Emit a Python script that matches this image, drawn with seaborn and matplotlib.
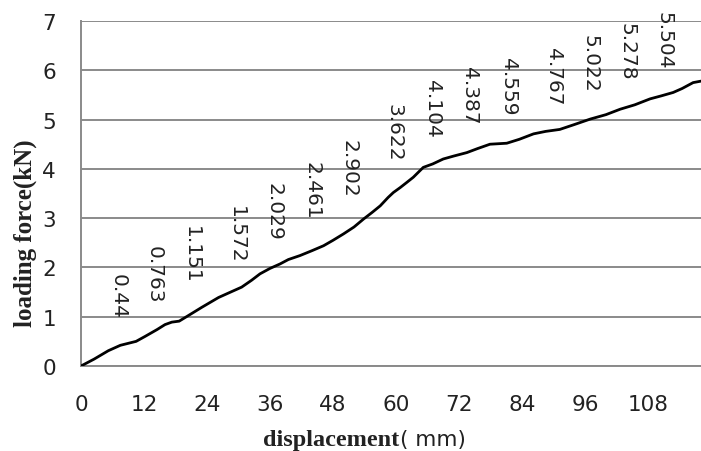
import matplotlib
matplotlib.use("Agg")
import matplotlib.pyplot as plt
import seaborn as sns
import pandas as pd

# ---- data ----
disp = [0, 2.5, 5.2, 7.5, 9.0, 10.5, 12.2, 14.5, 16.0, 17.3, 18.7, 20.4, 23.0, 26.2,
        28.5, 30.6, 32.5, 34.1, 36.0, 37.9, 39.5, 41.7, 44.0, 46.2, 48.0, 50.0, 52.0,
        53.8, 55.5, 57.0, 58.5, 59.5, 60.8, 62.0, 63.3, 65.2, 67.0, 69.0, 71.0, 73.5,
        75.5, 77.9, 79.5, 81.1, 83.5, 86.2, 88.5, 91.2, 94.0, 97.0, 100.0, 102.7,
        105.5, 108.4, 110.5, 112.8, 114.5, 116.6, 118.1]
force = [0, 0.14, 0.31, 0.42, 0.46, 0.50, 0.60, 0.74, 0.84, 0.89, 0.91, 1.02, 1.19, 1.39,
         1.50, 1.60, 1.74, 1.87, 1.98, 2.07, 2.16, 2.24, 2.34, 2.44, 2.55, 2.68, 2.82,
         2.98, 3.12, 3.25, 3.42, 3.52, 3.62, 3.72, 3.83, 4.03, 4.10, 4.20, 4.26, 4.33,
         4.41, 4.50, 4.51, 4.52, 4.60, 4.71, 4.76, 4.80, 4.90, 5.01, 5.10, 5.21,
         5.30, 5.42, 5.48, 5.55, 5.63, 5.75, 5.78]

label_x = [7, 14, 21, 29.6, 36.8, 44, 51.1, 59.7, 67, 74, 81.4, 90, 97, 104, 111]
label_vals = [0.44, 0.763, 1.151, 1.572, 2.029, 2.461, 2.902, 3.622, 4.104, 4.387,
              4.559, 4.767, 5.022, 5.278, 5.504]
label_txt = ["0.44", "0.763", "1.151", "1.572", "2.029", "2.461", "2.902", "3.622",
             "4.104", "4.387", "4.559", "4.767", "5.022", "5.278", "5.504"]

xticks = [0, 12, 24, 36, 48, 60, 72, 84, 96, 108]
yticks = [0, 1, 2, 3, 4, 5, 6, 7]

df = pd.DataFrame({"displacement": disp, "force": force})

sns.set_style("white")
plt.rcParams['font.family'] = ['DejaVu Sans']

fig = plt.figure(figsize=(7.01, 4.52), dpi=100)
ax = fig.add_axes([81 / 701, (452 - 367) / 452, (701 - 81) / 701, (367 - 22) / 452])

gray = "#8a8a8a"
sns.lineplot(data=df, x="displacement", y="force", ax=ax, color="black", lw=2.0,
             zorder=3)

ax.set_xlim(0, 118.1)
ax.set_ylim(0, 7)
ax.set_xticks(xticks)
ax.set_yticks(yticks)
ax.set_xticklabels([str(t) for t in xticks], fontsize=15.5, color="#222222")
ax.set_yticklabels([str(t) for t in yticks], fontsize=15.5, color="#222222")

ax.yaxis.grid(True, color=gray, lw=1.4)
ax.xaxis.grid(False)
for s in ["top", "right"]:
    ax.spines[s].set_visible(False)
for s in ["left", "bottom"]:
    ax.spines[s].set_color(gray)
    ax.spines[s].set_linewidth(1.4)

ax.tick_params(axis="x", direction="in", length=6, width=1.2, color=gray, pad=20)
ax.tick_params(axis="y", direction="out", length=6, width=1.2, color=gray, pad=12)

ax.set_xlabel("")
ax.set_ylabel("")

for x, v, t in zip(label_x, label_vals, label_txt):
    ax.annotate(t, xy=(x, v), xytext=(0, 19), textcoords="offset points",
                rotation=270, ha="center", va="bottom", fontsize=14.5,
                color="#222222", zorder=4)

# axis titles
fig.text(25 / 701, (452 - 233) / 452, "loading force(kN)", rotation=90,
         ha="center", va="center", fontsize=18, fontweight="bold",
         family="Liberation Serif", color="#222222")
fig.text(399 / 701, (452 - 446) / 452, "displacement", ha="right", va="baseline",
         fontsize=17.5, fontweight="bold", family="Liberation Serif", color="#222222")
fig.text(400 / 701, (452 - 446) / 452, "( mm)", ha="left", va="baseline",
         fontsize=15.5, family="DejaVu Sans", color="#222222")

fig.savefig("out.png", dpi=100)
